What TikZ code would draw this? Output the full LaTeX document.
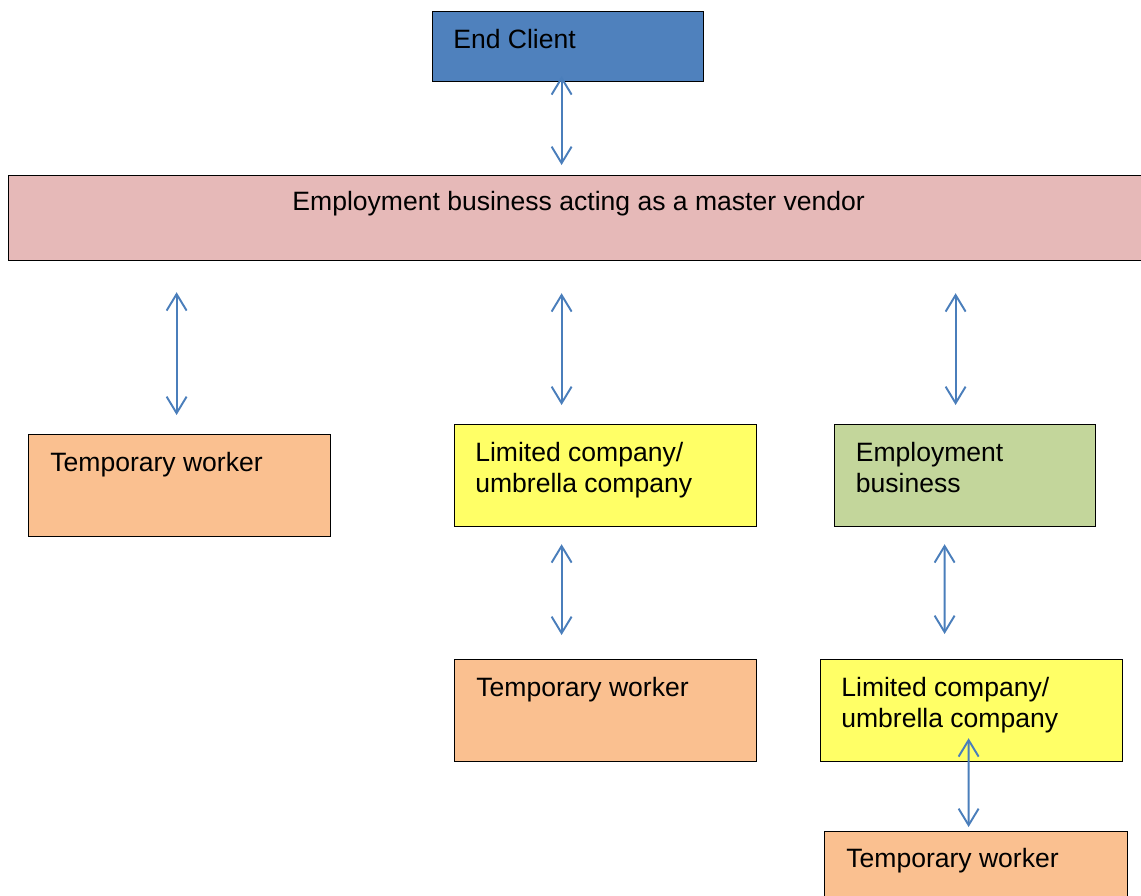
\documentclass[tikz,border=0pt]{standalone}
\usepackage{fontspec}
\setmainfont{Liberation Sans}
\usepackage{xcolor}
\usepackage{tikz}
\usetikzlibrary{arrows.meta, positioning, calc}
\definecolor{clientblue}{RGB}{79,129,189}
\definecolor{vendorpink}{RGB}{230,185,184}
\definecolor{workerorange}{RGB}{250,192,144}
\definecolor{ltdyellow}{RGB}{255,255,102}
\definecolor{ebgreen}{RGB}{195,214,155}
\definecolor{linkblue}{RGB}{74,126,187}
\tikzstyle{box} = [rectangle, draw=black, line width=0.7pt, anchor=north west, inner sep=0pt, minimum height=2.04cm, minimum width=6.04cm]
\tikzstyle{txt} = [inner sep=0pt, align=left, font=\fontsize{15.1pt}{17.6pt}\selectfont]
\tikzstyle{link} = [draw=linkblue, line width=1.1pt, <->, >={Straight Barb[length=0.33cm, width=0.4cm]}]

\begin{document}
\begin{tikzpicture}
    \useasboundingbox (0,0) rectangle (22.82,-17.92);

    % Boxes
    \node [box, fill=clientblue, minimum width=5.42cm, minimum height=1.40cm] (ec) at (8.64,-0.22) {};
    \node [box, fill=vendorpink, minimum width=22.80cm, minimum height=1.70cm] (mv) at (0.16,-3.50) {};
    \node [box, fill=workerorange] (tw1) at (0.56,-8.68) {};
    \node [box, fill=ltdyellow] (lc1) at (9.08,-8.48) {};
    \node [box, fill=ebgreen, minimum width=5.22cm] (eb) at (16.68,-8.48) {};
    \node [box, fill=workerorange] (tw2) at (9.08,-13.18) {};
    \node [box, fill=ltdyellow] (lc2) at (16.40,-13.18) {};
    \node [box, fill=workerorange, minimum width=6.06cm] (tw3) at (16.48,-16.62) {};

    % Labels
    \node [txt, below right=0.35cm and 0.42cm of ec.north west] (ecText) {End Client};
    \node [txt, below=0.32cm of mv.north] (mvText) {Employment business acting as a master vendor};
    \node [txt, below right=0.35cm and 0.44cm of tw1.north west] (tw1Text) {Temporary worker};
    \node [txt, below right=0.35cm and 0.42cm of lc1.north west] (lc1Text) {Limited company/\\umbrella company};
    \node [txt, below right=0.35cm and 0.43cm of eb.north west] (ebText) {Employment\\business};
    \node [txt, below right=0.35cm and 0.44cm of tw2.north west] (tw2Text) {Temporary worker};
    \node [txt, below right=0.35cm and 0.42cm of lc2.north west] (lc2Text) {Limited company/\\umbrella company};
    \node [txt, below right=0.33cm and 0.44cm of tw3.north west] (tw3Text) {Temporary worker};

    % Links
    \draw [link] ($(ec.south)+(-0.13,0.12)$) -- ($(mv.north -| ec.south)+(-0.13,0.20)$);
    \draw [link] ($(mv.south -| tw1.north)+(-0.06,-0.62)$) -- ($(tw1.north)+(-0.06,0.38)$);
    \draw [link] ($(mv.south -| lc1.north)+(-0.88,-0.64)$) -- ($(lc1.north)+(-0.88,0.38)$);
    \draw [link] ($(mv.south -| eb.north)+(-0.19,-0.64)$) -- ($(eb.north)+(-0.19,0.38)$);
    \draw [link] ($(lc1.south)+(-0.88,-0.34)$) -- ($(tw2.north)+(-0.88,0.48)$);
    \draw [link] ($(eb.south)+(-0.41,-0.34)$) -- ($(lc2.north)+(-0.54,0.50)$);
    \draw [link] ($(lc2.south)+(-0.06,0.48)$) -- ($(tw3.north)+(-0.15,0.08)$);
\end{tikzpicture}
\end{document}
